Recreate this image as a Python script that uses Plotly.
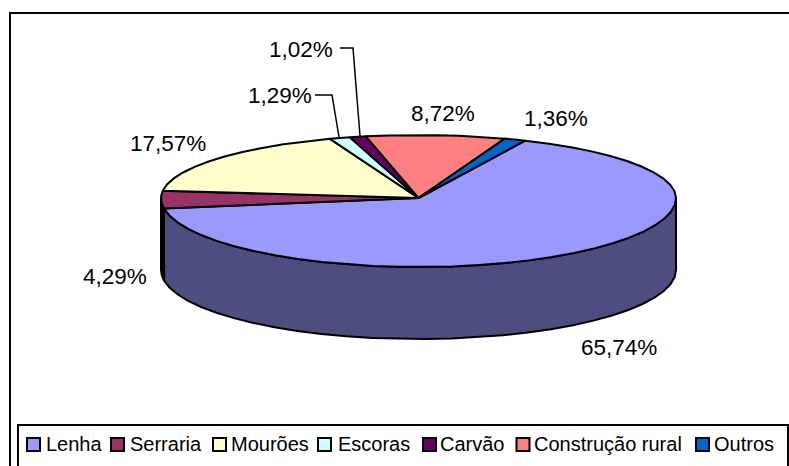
import math
import plotly.graph_objects as go

categories = ["Lenha", "Serraria", "Mourões", "Escoras", "Carvão", "Construção rural", "Outros"]
values = [65.74, 4.29, 17.57, 1.29, 1.02, 8.72, 1.36]
labels = ["65,74%", "4,29%", "17,57%", "1,29%", "1,02%", "8,72%", "1,36%"]
colors = ["#9999FF", "#993366", "#FFFFCC", "#CCFFFF", "#660066", "#FF8080", "#0066CC"]
side_colors = ["#4D4D80", "#000000", "#808066", "#668080", "#330033", "#804040", "#003366"]

W, H = 789, 466
CX, CY, RX, RY_BACK, RY_FRONT, DEPTH = 418.5, 198, 257.5, 63, 69, 72
START = 24.5
STEP = 6.0


def rim(a, dy=0):
    r = math.radians(a)
    c = math.cos(r)
    return CX + RX * math.sin(r), CY - (RY_BACK if c >= 0 else RY_FRONT) * c + dy


def arc(a0, a1, dy=0):
    n = max(2, int(abs(a1 - a0) / STEP) + 1)
    return [rim(a0 + (a1 - a0) * i / n, dy) for i in range(n + 1)]


total = sum(values)
angles = [START]
for v in values:
    angles.append(angles[-1] + v / total * 360)

fig = go.Figure()
OUT = dict(color="black", width=2)


def poly(pts, fill, name):
    xs = [p[0] for p in pts] + [pts[0][0]]
    ys = [p[1] for p in pts] + [pts[0][1]]
    fig.add_trace(go.Scatter(x=xs, y=ys, mode="lines", fill="toself", fillcolor=fill,
                             line=OUT, name=name, hoverinfo="name", showlegend=False))


# side walls: only the part of each slice on the front half (90..270 degrees)
for i, name in enumerate(categories):
    a0, a1 = max(angles[i], 90), min(angles[i + 1], 270)
    if a1 > a0:
        top = arc(a0, a1)
        bottom = arc(a1, a0, DEPTH)
        poly(top + bottom, side_colors[i], name)

# top faces
for i, name in enumerate(categories):
    poly([(CX, CY)] + arc(angles[i], angles[i + 1]), colors[i], name)

# legend swatches
swatch_x = [33.5, 117.5, 219.5, 324.5, 429.5, 523, 702.5]
text_x = [44, 128, 228.5, 336, 438, 531.5, 711.5]
LEG_Y = 444.5
fig.add_trace(go.Scatter(x=swatch_x, y=[LEG_Y] * 7, mode="markers", hoverinfo="skip", showlegend=False,
                         marker=dict(symbol="square", size=13, color=colors,
                                     line=dict(color="black", width=2))))

FONT = "Liberation Sans, Arial, sans-serif"
annotations = []
for x, name in zip(text_x, categories):
    annotations.append(dict(x=x, y=LEG_Y - 1, text=name, showarrow=False, xanchor="left", yanchor="middle",
                            font=dict(family=FONT, size=20, color="black"), xref="x", yref="y"))

label_pos = [(618.5, 347), (115, 276), (167.5, 143), (279.5, 95), (301, 49), (443, 113), (555.5, 118)]
for (x, y), t in zip(label_pos, labels):
    annotations.append(dict(x=x, y=y, text=t, showarrow=False, xanchor="center", yanchor="middle",
                            font=dict(family=FONT, size=22.5, color="black"), xref="x", yref="y"))

# leader lines
for pts_x, pts_y in [([340, 353, 360], [48, 48, 136]), ([315, 332, 339], [95, 95, 137])]:
    fig.add_trace(go.Scatter(x=pts_x, y=pts_y, mode="lines", hoverinfo="skip", showlegend=False,
                             line=dict(color="black", width=1.5)))

shapes = [
    dict(type="rect", xref="x", yref="y", x0=10, y0=13, x1=800, y1=490,
         line=dict(color="black", width=2), layer="below"),
    dict(type="rect", xref="x", yref="y", x0=18, y0=425, x1=788, y1=490,
         line=dict(color="black", width=2), fillcolor="white", layer="below"),
]

fig.update_layout(
    width=W, height=H, margin=dict(l=0, r=0, t=0, b=0),
    paper_bgcolor="white", plot_bgcolor="white", showlegend=False,
    xaxis=dict(range=[0, W], visible=False, fixedrange=True),
    yaxis=dict(range=[H, 0], visible=False, fixedrange=True),
    shapes=shapes, annotations=annotations,
)
fig.write_html("out.html", config={"displayModeBar": False},
               post_script="document.body.style.margin='0';document.body.style.overflow='hidden';")
